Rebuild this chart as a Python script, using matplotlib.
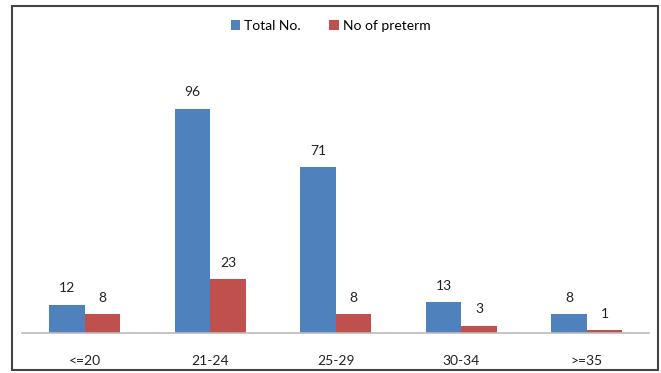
import matplotlib.pyplot as plt
import numpy as np
from matplotlib.patches import Rectangle

categories = ["<=20", "21-24", "25-29", "30-34", ">=35"]
total_no = [12, 96, 71, 13, 8]
preterm = [8, 23, 8, 3, 1]

plt.rcParams['font.family'] = ['Lato', 'DejaVu Sans']

fig = plt.figure(figsize=(6.61, 3.73), dpi=100)
ax = fig.add_axes([0.0333, 0.108, 0.9492, 0.75])

x = np.arange(len(categories))
w = 0.283
b1 = ax.bar(x - w / 2, total_no, w, color='#4F81BD', label='Total No.')
b2 = ax.bar(x + w / 2, preterm, w, color='#C0504D', label='No of preterm')

for bars in (b1, b2):
    for r in bars:
        ax.annotate(str(int(r.get_height())), (r.get_x() + r.get_width() / 2, r.get_height()),
                    xytext=(0, 7.5), textcoords='offset points', ha='center', va='bottom',
                    fontsize=10, color='#222222')

ax.set_xlim(-0.5, len(categories) - 0.5)
ax.set_ylim(0, 120)
ax.set_yticks([])
ax.set_xticks(x)
ax.set_xticklabels(categories, fontsize=10, color='#222222')
ax.tick_params(axis='x', length=0, pad=16)
for s in ('top', 'right', 'left'):
    ax.spines[s].set_visible(False)
ax.spines['bottom'].set_color('#BBBBBB')
ax.spines['bottom'].set_linewidth(1.2)

fig.legend(loc='upper center', bbox_to_anchor=(0.5, 0.98), ncol=2, frameon=False,
           fontsize=10, handlelength=0.7, handleheight=0.7, handletextpad=0.3,
           columnspacing=2.0)

# outer frame
fig.patches.append(Rectangle((12 / 661, 3 / 373), 646 / 661, 364 / 373,
                             transform=fig.transFigure, fill=False,
                             edgecolor='#444444', linewidth=1.5))

fig.savefig('out.png', dpi=100)
